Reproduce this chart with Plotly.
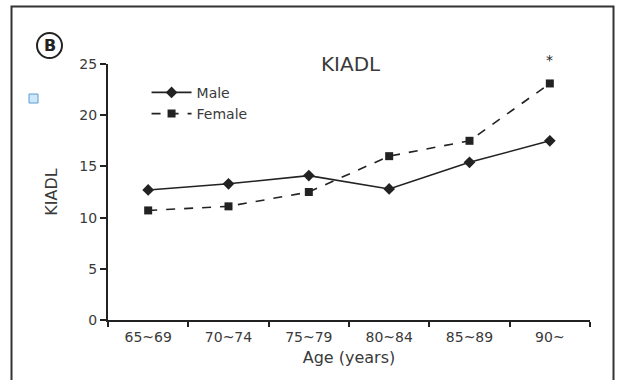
import plotly.graph_objects as go

categories = ["65~69", "70~74", "75~79", "80~84", "85~89", "90~"]
male = [12.7, 13.3, 14.1, 12.8, 15.4, 17.5]
female = [10.7, 11.1, 12.5, 16.0, 17.5, 23.1]
y_ticks = [0, 5, 10, 15, 20, 25]

INK = "#222222"
TXT = "#3a3a3a"
FONT = "DejaVu Sans, Arial, sans-serif"

fig = go.Figure()
fig.add_trace(go.Scatter(
    x=categories, y=male, name="Male", mode="lines+markers",
    line=dict(color=INK, width=1.6),
    marker=dict(symbol="diamond", size=9, color=INK),
))
fig.add_trace(go.Scatter(
    x=categories, y=female, name="Female", mode="lines+markers",
    line=dict(color=INK, width=1.6, dash="dash"),
    marker=dict(symbol="square", size=8, color=INK),
))

fig.update_layout(
    width=624, height=380,
    margin=dict(l=108, r=34, t=64, b=60),
    paper_bgcolor="white", plot_bgcolor="white",
    font=dict(family=FONT, size=14, color=TXT),
    showlegend=True,
    legend=dict(x=0.08, y=0.95, xanchor="left", yanchor="top",
                bgcolor="rgba(0,0,0,0)", font=dict(size=14, color=TXT),
                tracegroupgap=0, itemwidth=40),
    xaxis=dict(
        type="category", range=[-0.5, 5.5], tickson="boundaries",
        showline=True, linecolor=INK, linewidth=2,
        ticks="outside", ticklen=5, tickwidth=2, tickcolor=INK,
        ticklabelstandoff=3,
        showgrid=False, zeroline=False,
        tickfont=dict(size=14, color=TXT),
        title=dict(text="Age (years)", font=dict(size=16, color=TXT), standoff=8),
    ),
    yaxis=dict(
        range=[0, 25], tickvals=y_ticks,
        showline=True, linecolor=INK, linewidth=2,
        ticks="outside", ticklen=6, tickwidth=2, tickcolor=INK,
        showgrid=False, zeroline=False,
        tickfont=dict(size=14, color=TXT),
        title=dict(text="KIADL", font=dict(size=16, color=TXT), standoff=18),
    ),
)

# chart title
fig.add_annotation(text="KIADL", xref="paper", yref="paper", x=0.505, y=1.0,
                   xanchor="center", yanchor="middle", showarrow=False,
                   font=dict(size=20, color=TXT, family=FONT))
# significance marker above last point
fig.add_annotation(text="*", x=categories[-1], xref="x", yref="paper",
                   y=1.015, xanchor="center", yanchor="middle", showarrow=False,
                   font=dict(size=14, color=INK))

# panel letter B in a circle
fig.add_shape(type="circle", xref="paper", yref="paper",
              x0=(37 - 108) / 482, x1=(62 - 108) / 482,
              y0=(320 - 58) / 256, y1=(320 - 33) / 256,
              line=dict(color=INK, width=2))
fig.add_annotation(text="<b>B</b>", xref="paper", yref="paper",
                   x=(49.5 - 108) / 482, y=(320 - 45.5) / 256,
                   xanchor="center", yanchor="middle",
                   showarrow=False, font=dict(size=16, color=INK))

# small light-blue square
fig.add_shape(type="rect", xref="paper", yref="paper",
              x0=(29 - 108) / 482, x1=(38 - 108) / 482,
              y0=(320 - 103) / 256, y1=(320 - 94) / 256,
              fillcolor="#cfe8f7", line=dict(color="#5a9bd5", width=1))

# outer frame
fig.add_shape(type="rect", xref="paper", yref="paper",
              x0=(11.5 - 108) / 482, x1=(613.5 - 108) / 482,
              y0=(320 - 390) / 256, y1=(320 - 6.5) / 256,
              line=dict(color="#333333", width=2))

fig.write_html("out.html", config={"displayModeBar": False},
               post_script="document.body.style.margin='0';document.body.style.overflow='hidden';")
